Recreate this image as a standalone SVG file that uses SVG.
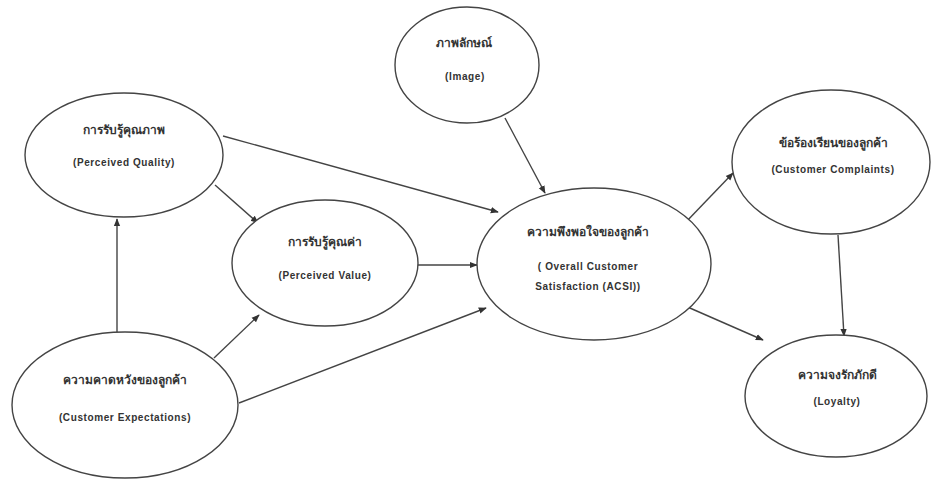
<svg xmlns="http://www.w3.org/2000/svg" width="932" height="479" viewBox="0 0 932 479">
<defs>
<style>
.n ellipse{fill:#fff;stroke:#444;stroke-width:1.4}
.n text{font-family:"Liberation Sans",Arial,"Noto Sans",sans-serif;font-size:10px;font-weight:bold;fill:#333;text-anchor:middle;letter-spacing:0.6px}
.n text.th{font-size:12px;letter-spacing:0}
.c line{stroke:#444;stroke-width:1.4;marker-end:url(#ah)}
</style>
<marker id="ah" viewBox="0 0 10 10" refX="9" refY="5" markerWidth="8" markerHeight="8" markerUnits="userSpaceOnUse" orient="auto">
<path d="M0,1 L10,5 L0,9 z" fill="#333"/>
</marker>
</defs>
<rect width="932" height="479" fill="#fff"/>
<g class="c" id="connectors">
<line x1="117" y1="332" x2="117" y2="219"/>
<line x1="215" y1="185" x2="258" y2="223"/>
<line x1="223" y1="136" x2="498" y2="212"/>
<line x1="505" y1="118" x2="545" y2="193"/>
<line x1="418" y1="265" x2="477" y2="265"/>
<line x1="214" y1="358" x2="259" y2="315"/>
<line x1="239" y1="403" x2="486" y2="308"/>
<line x1="685" y1="223" x2="733" y2="173"/>
<line x1="683" y1="305" x2="763" y2="340"/>
<line x1="838" y1="235" x2="844" y2="336"/>
</g>
<g class="n" id="quality">
<ellipse cx="124" cy="155" rx="99" ry="62"/>
<text class="th" x="124" y="134">การรับรู้คุณภาพ</text>
<text x="124" y="166">(Perceived Quality)</text>
</g>
<g class="n" id="value">
<ellipse cx="325" cy="263" rx="93" ry="63"/>
<text class="th" x="325" y="246">การรับรู้คุณค่า</text>
<text x="325" y="279">(Perceived Value)</text>
</g>
<g class="n" id="image">
<ellipse cx="467" cy="65" rx="72" ry="58"/>
<text class="th" x="464" y="47">ภาพลักษณ์</text>
<text x="465" y="80">(Image)</text>
</g>
<g class="n" id="satisfaction">
<ellipse cx="594" cy="264" rx="117" ry="76"/>
<text class="th" x="588" y="236">ความพึงพอใจของลูกค้า</text>
<text x="588" y="270">( Overall Customer</text>
<text x="588" y="290">Satisfaction (ACSI))</text>
</g>
<g class="n" id="complaints">
<ellipse cx="831" cy="162" rx="99" ry="72"/>
<text class="th" x="833" y="147">ข้อร้องเรียนของลูกค้า</text>
<text x="833" y="173">(Customer Complaints)</text>
</g>
<g class="n" id="loyalty">
<ellipse cx="836" cy="396" rx="91" ry="61"/>
<text class="th" x="837" y="379">ความจงรักภักดี</text>
<text x="837" y="405">(Loyalty)</text>
</g>
<g class="n" id="expectations">
<ellipse cx="125" cy="405" rx="113" ry="73"/>
<text class="th" x="125" y="384">ความคาดหวังของลูกค้า</text>
<text x="125" y="421">(Customer Expectations)</text>
</g>
</svg>
